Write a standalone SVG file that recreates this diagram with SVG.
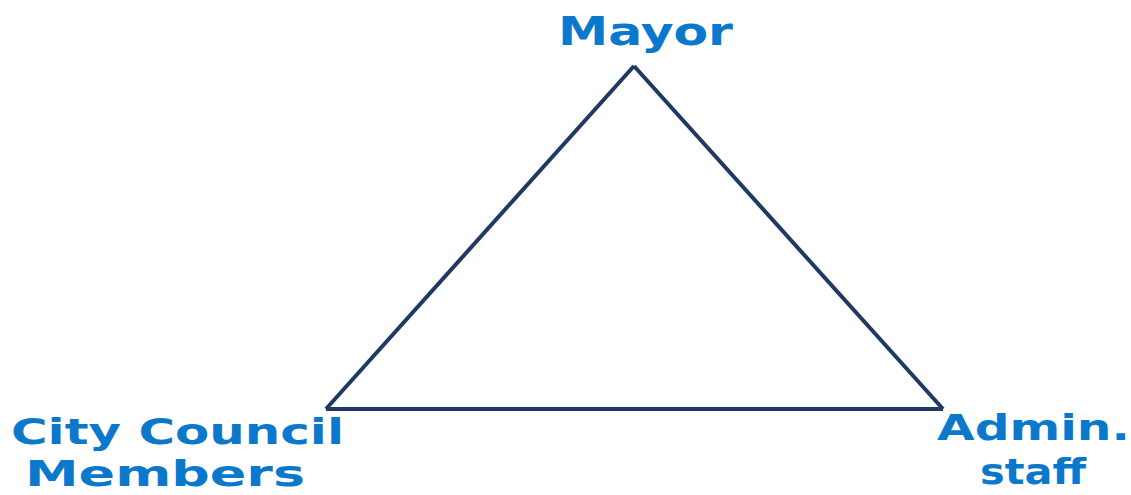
<svg xmlns="http://www.w3.org/2000/svg" width="1131" height="495" viewBox="0 0 1131 495">
<style>
.lbl{font-family:"DejaVu Sans","Liberation Sans",sans-serif;font-weight:bold;font-size:36px;fill:#0b78cc}
.edge{stroke:#1f3864;stroke-width:4;fill:none;stroke-linejoin:miter}
</style>
<rect width="1131" height="495" fill="#ffffff"/>
<g id="connectors">
<line class="edge" x1="634" y1="66" x2="326" y2="409"/>
<line class="edge" x1="634" y1="66" x2="943" y2="409"/>
<line class="edge" x1="326" y1="409" x2="943" y2="409"/>
</g>
<g id="mayor">
<text class="lbl" x="558" y="45" textLength="175" lengthAdjust="spacingAndGlyphs" style="font-size:39px">Mayor</text>
</g>
<g id="council">
<text class="lbl" x="11" y="444" textLength="333" lengthAdjust="spacingAndGlyphs">City Council</text>
<text class="lbl" x="25" y="486" textLength="280" lengthAdjust="spacingAndGlyphs">Members</text>
</g>
<g id="admin">
<text class="lbl" x="937" y="440" textLength="193" lengthAdjust="spacingAndGlyphs">Admin.</text>
<text class="lbl" x="980" y="484" textLength="106" lengthAdjust="spacingAndGlyphs">staff</text>
</g>
</svg>
